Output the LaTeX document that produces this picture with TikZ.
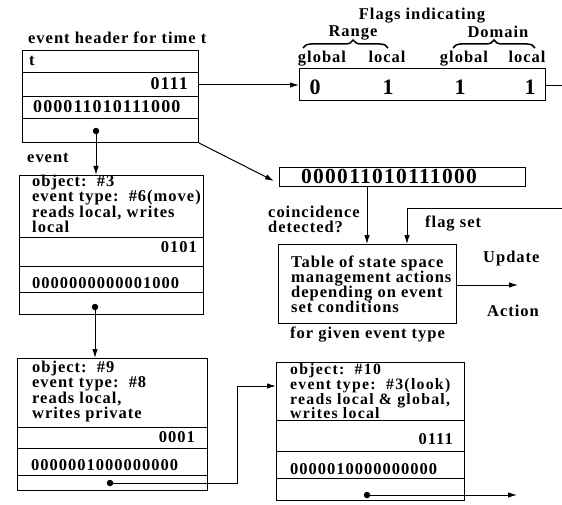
\documentclass[tikz,border=0pt]{standalone}
\usepackage{fontspec}
\setmainfont{Liberation Serif}[LetterSpace=6]
\usetikzlibrary{arrows.meta,decorations.pathreplacing}
\begin{document}
\begin{tikzpicture}[x=1pt,y=-1pt,
 box/.style={draw,line width=1pt,anchor=north west,inner sep=0},
 lbl/.style={inner sep=0,font=\fontsize{16.5}{16}\selectfont\bfseries},
 lbls/.style={inner sep=0,font=\fontsize{15.8}{16}\selectfont\bfseries\addfontfeature{LetterSpace=8}},
 dig/.style={inner sep=0,font=\fontsize{16.5}{16}\selectfont\bfseries},
 bigdig/.style={inner sep=0,font=\fontsize{22}{22}\selectfont\bfseries,anchor=base},
 conn/.style={line width=1pt},
 arr/.style={conn,-{Latex[length=9pt,width=5.5pt]}},
 dotc/.style={circle,fill,inner sep=0,minimum size=6.5pt},
 brc/.style={decorate,line width=1.5pt},
]
\useasboundingbox (0,0) rectangle (562,505);

% ---------- header ----------
\node[lbl,anchor=base west] (hdrtitle) at (28,44) {event header for time t};
\node[box,minimum width=176,minimum height=92] (hdr) at (22,50) {};
\foreach \yy in {73,97,119} \draw[conn] (22,\yy) -- (198,\yy);
\node[lbl,anchor=base west] (hdrt) at (29,66) {t};
\node[dig,anchor=base east,font=\fontsize{18}{18}\selectfont\bfseries] (hdrflag) at (188,90) {0111};
\node[dig,anchor=base west,font=\fontsize{18}{18}\selectfont\bfseries] (hdrbits) at (33,113) {000011010111000};
\node[dotc] (hdrdot) at (96,131) {};

% ---------- flags ----------
\node[lbl,anchor=base] (flagstitle) at (422,20) {Flags indicating};
\node[lbl,anchor=base] (range) at (353,37) {Range};
\node[lbl,anchor=base] (domain) at (498,38) {Domain};
\draw[brc,decoration={brace,amplitude=8pt,aspect=0.59}] (303,48) -- (388,48);
\draw[brc,decoration={brace,amplitude=8pt,aspect=0.5}] (453,48) -- (535,48);
\node[lbl,anchor=base] (rglob) at (322,63) {global};
\node[lbl,anchor=base] (rloc) at (387,63) {local};
\node[lbl,anchor=base] (dglob) at (464,63) {global};
\node[lbl,anchor=base] (dloc) at (527,63) {local};
\node[box,minimum width=246,minimum height=32] (flags) at (299,68) {};
\node[bigdig] (f1) at (315,95) {0};
\node[bigdig] (f2) at (388,95) {1};
\node[bigdig] (f3) at (460,95) {1};
\node[bigdig] (f4) at (530,95) {1};
\coordinate (hdrflagR) at (198,85);
\draw[arr] (hdrflagR) -- (hdrflagR -| flags.west);
\coordinate (flagsout) at (562,86);
\draw[conn] (flagsout -| flags.east) -- (flagsout);

% ---------- middle bits ----------
\node[box,minimum width=246,minimum height=19] (mid) at (279,167) {};
\node[inner sep=0,font=\fontsize{21.5}{21}\selectfont\bfseries,anchor=base] (midbits) at (389,184) {000011010111000};
\coordinate (midin) at (274,181);
\draw[arr] (hdr.south east) -- (midin);

% ---------- table ----------
\node[lbl,anchor=base west] (coin1) at (268,218) {coincidence};
\node[lbl,anchor=base west] (coin2) at (268,233) {detected?};
\node[lbl,anchor=base west] (flagset) at (425,227) {flag set};
\node[box,minimum width=178,minimum height=79] (table) at (278,244) {};
\node[lbl,anchor=base west] (t1) at (291,267) {Table of state space};
\node[lbl,anchor=base west] (t2) at (291,282) {management actions};
\node[lbl,anchor=base west] (t3) at (291,297) {depending on event};
\node[lbl,anchor=base west] (t4) at (291,312) {set conditions};
\node[lbl,anchor=base west] (upd) at (483,262) {Update};
\node[lbl,anchor=base west] (act) at (487,316) {Action};
\node[lbl,anchor=base west] (given) at (290,338) {for given event type};
\coordinate (midout) at (367,186);
\draw[arr] (midout) -- (midout |- table.north);
\coordinate (flagin) at (562,209);
\coordinate (tabin2) at (407,244);
\draw[arr] (flagin) -| (tabin2);
\coordinate (actout) at (518,285);
\draw[arr] (table.east |- actout) -- (actout);

% ---------- event 1 ----------
\node[lbl,anchor=base west] (evlbl) at (27,163) {event};
\node[box,minimum width=184,minimum height=139] (ev1) at (19,175) {};
\draw[arr] (hdrdot.center) -- (hdrdot.center |- ev1.north);
\foreach \yy in {237,266,292} \draw[conn] (19,\yy) -- (203,\yy);
\node[lbl,anchor=base west] (e1a) at (32,187) {object:\ \ \#3};
\node[lbl,anchor=base west] (e1b) at (32,202) {event type:\ \ \#6(move)};
\node[lbl,anchor=base west] (e1c) at (32,217.5) {reads local, writes};
\node[lbl,anchor=base west] (e1d) at (32,233) {local};
\node[dig,anchor=base east] (e1f) at (197,252) {0101};
\node[dig,anchor=base west] (e1g) at (32,288) {0000000000001000};
\node[dotc] (e1dot) at (95,307) {};

% ---------- event 2 ----------
\node[box,minimum width=190,minimum height=132] (ev2) at (17,358) {};
\draw[arr] (e1dot.center) -- (e1dot.center |- ev2.north);
\foreach \yy in {427,448,475} \draw[conn] (17,\yy) -- (207,\yy);
\node[lbl,anchor=base west] (e2a) at (32,372) {object:\ \ \#9};
\node[lbl,anchor=base west] (e2b) at (32,387.5) {event type:\ \ \#8};
\node[lbl,anchor=base west] (e2c) at (32,403) {reads local,};
\node[lbl,anchor=base west] (e2d) at (32,418.5) {writes private};
\node[dig,anchor=base east] (e2f) at (195,442) {0001};
\node[dig,anchor=base west] (e2g) at (31,470) {0000001000000000};
\node[dotc] (e2dot) at (110,483) {};

% ---------- event 3 ----------
\node[box,minimum width=188,minimum height=138] (ev3) at (276,362) {};
\foreach \yy in {420,451,478} \draw[conn] (276,\yy) -- (464,\yy);
\node[lbls,anchor=base west] (e3a) at (290,374.5) {object:\ \ \#10};
\node[lbls,anchor=base west] (e3b) at (290,389.3) {event type:\ \ \#3(look)};
\node[lbls,anchor=base west] (e3c) at (290,404.1) {reads local \& global,};
\node[lbls,anchor=base west] (e3d) at (290,418.9) {writes local};
\node[dig,anchor=base east] (e3f) at (453,444) {0111};
\node[dig,anchor=base west] (e3g) at (290,474) {0000010000000000};
\node[dotc] (e3dot) at (367,495) {};
\coordinate (e2bend) at (237,386);
\draw[arr] (e2dot.center) -| (e2bend) -- (e2bend -| ev3.west);
\coordinate (e3out) at (517,495);
\draw[arr] (e3dot.center) -- (e3out);
\end{tikzpicture}
\end{document}
